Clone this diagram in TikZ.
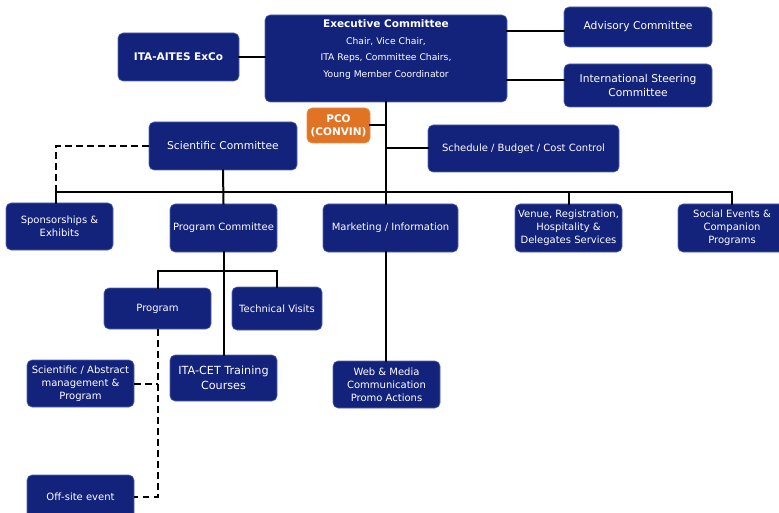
\documentclass[tikz,border=0pt]{standalone}
\usepackage{fontspec}
\setmainfont{DejaVu Sans}
\usepackage{xcolor}
\usepackage{tikz}
\definecolor{navyblue}{RGB}{19,34,122}
\definecolor{edgeblue}{RGB}{84,104,178}
\definecolor{convinorange}{RGB}{224,116,36}

\begin{document}
\begin{tikzpicture}[x=1pt,y=-1pt,
  box/.style={draw=edgeblue,line width=0.6pt,fill=navyblue,text=white,rounded corners=5pt,
    align=center,inner sep=1pt,font=\fontsize{10}{13}\selectfont},
  bigbox/.style={box,font=\fontsize{10.7}{13.5}\selectfont},
  link/.style={line width=2pt,line cap=rect},
  dashline/.style={line width=2pt,dash pattern=on 6.5pt off 4.5pt}]
\useasboundingbox (0,0) rectangle (779,513);
% top level
\node[box,minimum width=242pt,minimum height=87pt,text depth=20pt,font=\fontsize{9.2}{16.5}\selectfont] (exec) at (386,58.5)
  {\fontsize{10.5}{14}\selectfont\bfseries Executive Committee\\\fontsize{9.2}{16.5}\selectfont\mdseries Chair, Vice Chair,\\ITA Reps, Committee Chairs,\\Young Member Coordinator};
\node[box,minimum width=121pt,minimum height=48pt,font=\fontsize{10.5}{12}\selectfont\bfseries] (exco) at (178.5,57) {ITA-AITES ExCo};
\node[bigbox,minimum width=148pt,minimum height=40pt] (adv) at (638,27) {Advisory Committee};
\node[bigbox,minimum width=148pt,minimum height=43pt] (isc) at (638,85.5) {International Steering\\Committee};
\node[box,draw=convinorange!80!white,fill=convinorange,minimum width=63pt,minimum height=35pt,
  font=\fontsize{10.5}{13}\selectfont\bfseries] (pco) at (338.5,125.5) {PCO\\(CONVIN)};
\node[bigbox,minimum width=148pt,minimum height=48pt] (sci) at (223,146) {Scientific Committee};
\node[box,minimum width=191pt,minimum height=47pt] (sched) at (523.5,148.5) {Schedule / Budget / Cost Control};
% second level
\node[box,minimum width=107pt,minimum height=47pt] (spons) at (59.5,226.5) {Sponsorships \&\\Exhibits};
\node[box,minimum width=107pt,minimum height=48pt] (progc) at (223.5,228) {Program Committee};
\node[box,minimum width=135pt,minimum height=48pt] (mkt) at (390.5,228) {Marketing / Information};
\node[box,minimum width=107pt,minimum height=48pt] (venue) at (568.5,228) {Venue, Registration,\\Hospitality \&\\Delegates Services};
\node[box,minimum width=108pt,minimum height=48pt] (social) at (732,228) {Social Events \&\\Companion\\Programs};
% third level
\node[box,minimum width=107pt,minimum height=41pt] (prog) at (157.5,308.5) {Program};
\node[box,minimum width=90pt,minimum height=43pt] (tech) at (277,308.5) {Technical Visits};
\node[box,minimum width=107pt,minimum height=46pt,font=\fontsize{11.2}{15}\selectfont] (cet) at (223.5,378) {ITA-CET Training\\Courses};
\node[box,minimum width=107pt,minimum height=47pt] (web) at (386.5,384.5) {Web \& Media\\Communication\\Promo Actions};
\node[box,minimum width=107pt,minimum height=47pt] (abs) at (80.5,383.5) {Scientific / Abstract\\management \&\\Program};
\node[box,minimum width=107pt,minimum height=44pt] (off) at (80.5,497) {Off-site event};
\coordinate (bus) at (0,192);
\coordinate (subbus) at (0,271);
\coordinate (sponstop) at ([xshift=-3.5pt]spons.north);
% connectors
\draw[link] (exco.east) -- (exco.east -| exec.west);
\draw[link] (adv.west) ++(0,4) -- ++(-57,0);
\draw[link] (isc.west) ++(0,-5) -- ++(-57,0);
\draw[link] (exec.south) -- (exec.south |- mkt.north);
\draw[link] (pco.east) -- (pco.east -| exec.south);
\draw[link] (sched.west) -- (sched.west -| exec.south);
\draw[link] (sci.south) -- (progc.north);
\draw[link] (sponstop) -- (sponstop |- bus) -- (social.north |- bus) -- (social.north);
\draw[link] (venue.north) -- (venue.north |- bus);
\draw[dashline] (sci.west) -| (sponstop |- bus);
\draw[link] (prog.north) -- (prog.north |- subbus) -- (tech.north |- subbus) -- (tech.north);
\draw[link] (progc.south) -- (cet.north);
\draw[link] (exec.south |- mkt.south) -- (exec.south |- web.north);
\draw[dashline] (prog.south) |- (off.east);
\draw[dashline] (abs.east) -- (abs.east -| prog.south);
\end{tikzpicture}
\end{document}
